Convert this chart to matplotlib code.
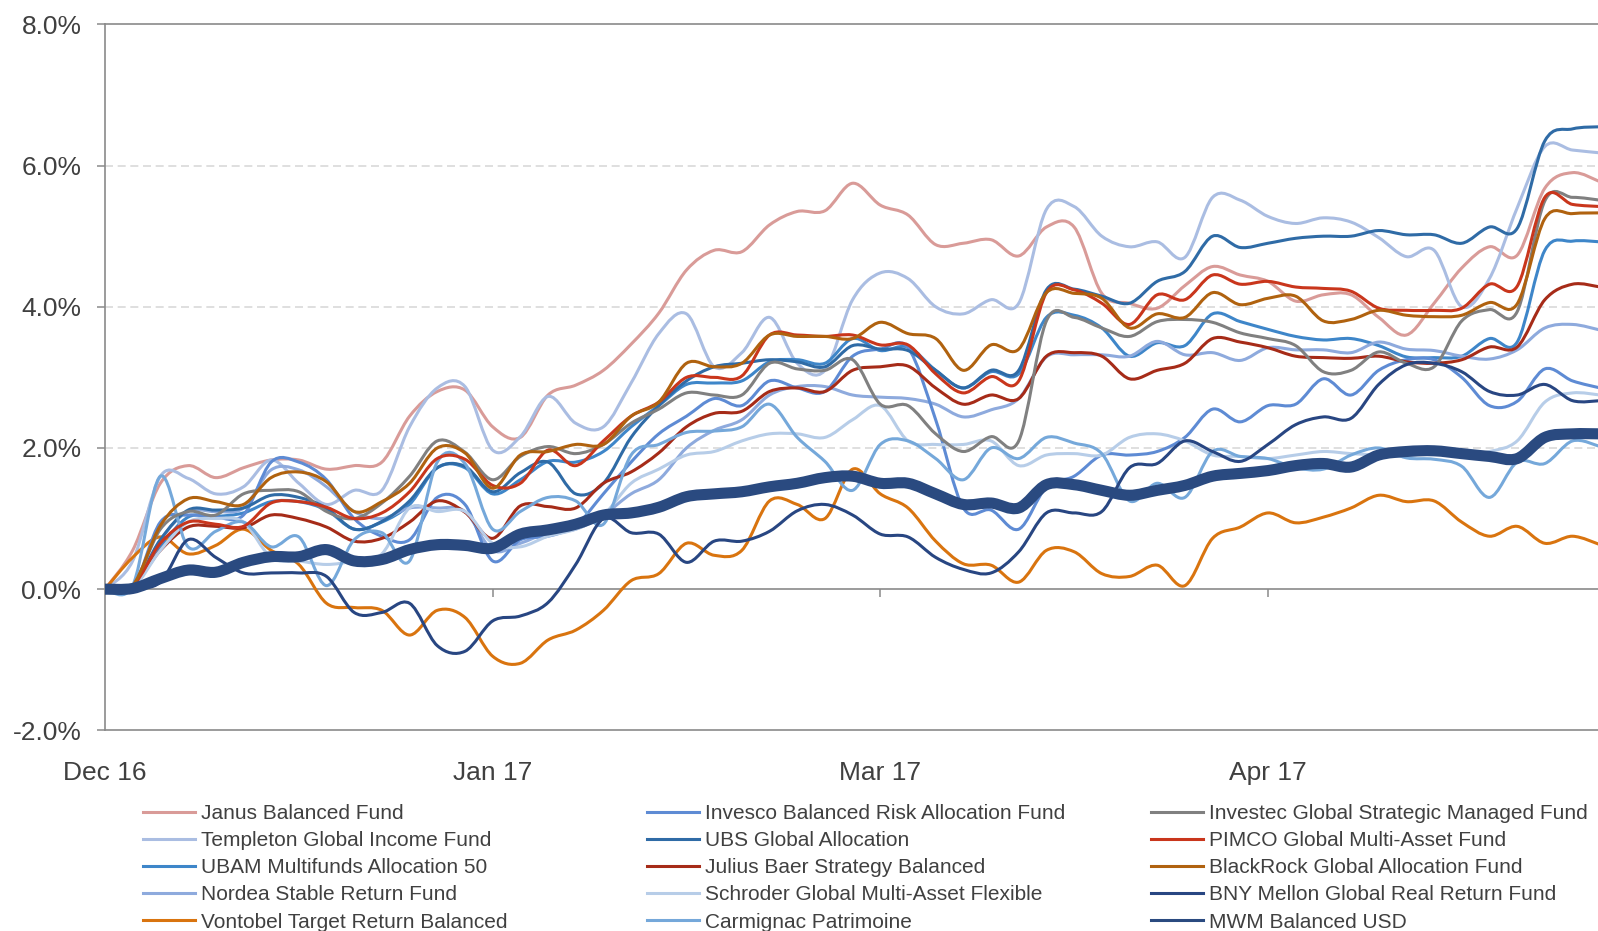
import matplotlib
matplotlib.use('Agg')
import matplotlib.pyplot as plt
from matplotlib.lines import Line2D
from matplotlib.path import Path
from matplotlib.patches import PathPatch

plt.rcParams['font.family'] = ['Liberation Sans', 'DejaVu Sans']

# ---------------- data ----------------
day_index = list(range(0, 109, 2))          # trading-day index (every 2nd day)
tick_positions = [0, 28, 56, 84]
tick_labels = ['Dec 16', 'Jan 17', 'Mar 17', 'Apr 17']
y_ticks = [-2, 0, 2, 4, 6, 8]

janus = [0.0, 0.55, 1.50, 1.75, 1.58, 1.72, 1.83, 1.83, 1.70, 1.75, 1.80, 2.45, 2.80, 2.82, 2.30, 2.15, 2.75, 2.89, 3.10, 3.47,
         3.91, 4.52, 4.80, 4.78, 5.16, 5.35, 5.36, 5.75, 5.44, 5.30, 4.88, 4.90, 4.95, 4.72, 5.13, 5.13, 4.19, 4.05, 3.98, 4.30,
         4.57, 4.45, 4.36, 4.08, 4.17, 4.17, 3.85, 3.60, 4.05, 4.55, 4.85, 4.73, 5.68, 5.90, 5.77]
templeton = [0.0, 0.40, 1.60, 1.57, 1.35, 1.45, 1.83, 1.50, 1.20, 1.40, 1.40, 2.30, 2.85, 2.87, 1.97, 2.16, 2.73, 2.35, 2.30, 2.92,
             3.62, 3.90, 3.15, 3.35, 3.85, 3.20, 3.10, 4.10, 4.48, 4.40, 4.00, 3.90, 4.10, 4.05, 5.38, 5.42, 5.00, 4.85, 4.92, 4.70,
             5.55, 5.51, 5.28, 5.18, 5.26, 5.20, 4.98, 4.71, 4.80, 4.00, 4.40, 5.40, 6.27, 6.22, 6.18]
ubam = [0.0, 0.05, 0.60, 1.02, 1.03, 1.08, 1.24, 1.24, 1.12, 0.85, 0.95, 1.20, 1.72, 1.72, 1.35, 1.55, 1.81, 1.80, 1.95, 2.30,
        2.60, 2.90, 2.92, 2.95, 3.22, 3.25, 3.20, 3.55, 3.38, 3.43, 3.10, 2.85, 3.08, 3.05, 3.85, 3.88, 3.70, 3.30, 3.49, 3.45,
        3.90, 3.79, 3.68, 3.58, 3.53, 3.55, 3.45, 3.29, 3.28, 3.30, 3.55, 3.50, 4.80, 4.93, 4.92]
nordea = [0.0, 0.02, 0.70, 1.10, 1.10, 1.15, 1.69, 1.69, 1.45, 1.10, 1.00, 1.15, 1.15, 1.10, 0.55, 0.65, 0.80, 0.85, 1.05, 1.35,
          1.55, 2.00, 2.25, 2.40, 2.75, 2.87, 2.87, 2.75, 2.72, 2.70, 2.62, 2.44, 2.54, 2.70, 3.29, 3.32, 3.32, 3.30, 3.51, 3.32,
          3.35, 3.24, 3.42, 3.39, 3.39, 3.35, 3.50, 3.40, 3.38, 3.30, 3.26, 3.39, 3.70, 3.75, 3.67]
vontobel = [0.0, 0.45, 0.74, 0.50, 0.62, 0.85, 0.55, 0.35, -0.20, -0.26, -0.30, -0.65, -0.30, -0.40, -0.95, -1.05, -0.72, -0.58, -0.30, 0.12,
            0.22, 0.65, 0.48, 0.55, 1.25, 1.20, 1.00, 1.70, 1.35, 1.15, 0.68, 0.36, 0.34, 0.10, 0.55, 0.53, 0.22, 0.18, 0.34, 0.05,
            0.72, 0.88, 1.08, 0.94, 1.02, 1.15, 1.33, 1.24, 1.25, 0.95, 0.75, 0.89, 0.65, 0.75, 0.63]
invesco = [0.0, 0.02, 0.95, 1.05, 1.02, 1.05, 1.80, 1.80, 1.55, 1.00, 0.75, 0.70, 1.30, 1.20, 0.40, 0.70, 0.75, 0.90, 1.35, 1.80,
           2.20, 2.45, 2.70, 2.60, 2.95, 2.85, 2.80, 3.30, 3.40, 3.42, 2.40, 1.15, 1.12, 0.85, 1.45, 1.60, 1.90, 1.90, 1.95, 2.15,
           2.55, 2.37, 2.60, 2.62, 2.98, 2.75, 3.10, 3.25, 3.25, 3.00, 2.60, 2.66, 3.12, 2.95, 2.85]
ubs = [0.0, 0.05, 0.70, 1.12, 1.12, 1.15, 1.33, 1.30, 1.15, 0.85, 0.96, 1.25, 1.72, 1.74, 1.38, 1.65, 1.80, 1.35, 1.50, 2.15,
       2.60, 2.95, 3.15, 3.20, 3.25, 3.22, 3.15, 3.45, 3.40, 3.38, 3.10, 2.85, 3.10, 3.10, 4.24, 4.25, 4.15, 4.05, 4.36, 4.50,
       5.00, 4.84, 4.90, 4.97, 5.00, 5.00, 5.08, 5.02, 5.02, 4.90, 5.13, 5.11, 6.35, 6.52, 6.55]
julius_baer = [0.0, 0.05, 0.55, 0.88, 0.89, 0.87, 1.05, 1.00, 0.88, 0.68, 0.72, 0.95, 1.25, 1.09, 0.72, 1.18, 1.17, 1.15, 1.50, 1.66,
               1.93, 2.30, 2.49, 2.52, 2.80, 2.85, 2.80, 3.10, 3.15, 3.16, 2.85, 2.62, 2.75, 2.70, 3.30, 3.35, 3.30, 2.98, 3.10, 3.20,
               3.55, 3.50, 3.42, 3.30, 3.28, 3.27, 3.30, 3.22, 3.20, 3.25, 3.43, 3.43, 4.10, 4.32, 4.28]
schroder = [0.0, 0.02, 0.55, 0.95, 1.00, 0.95, 0.45, 0.40, 0.35, 0.40, 0.50, 1.15, 1.10, 1.10, 0.65, 0.60, 0.75, 0.85, 1.05, 1.50,
            1.70, 1.90, 1.95, 2.10, 2.20, 2.20, 2.15, 2.40, 2.60, 2.10, 2.05, 2.05, 2.10, 1.75, 1.90, 1.92, 1.90, 2.15, 2.20, 2.10,
            1.90, 1.88, 1.85, 1.90, 1.95, 1.92, 1.90, 1.88, 1.95, 1.90, 1.95, 2.10, 2.65, 2.78, 2.75]
carmignac = [0.0, 0.05, 1.60, 0.60, 0.82, 0.95, 0.60, 0.74, 0.05, 0.70, 0.80, 0.40, 1.80, 1.78, 0.85, 1.10, 1.30, 1.25, 0.92, 1.90,
             2.05, 2.22, 2.24, 2.30, 2.62, 2.15, 1.81, 1.40, 2.05, 2.10, 1.85, 1.55, 2.00, 1.85, 2.15, 2.07, 1.92, 1.25, 1.50, 1.30,
             1.95, 1.88, 1.85, 1.72, 1.70, 1.90, 2.00, 1.86, 1.84, 1.74, 1.30, 1.80, 1.78, 2.10, 2.02]
investec = [0.0, 0.05, 0.85, 1.10, 1.05, 1.35, 1.40, 1.38, 1.10, 1.00, 1.22, 1.60, 2.10, 1.94, 1.55, 1.88, 2.02, 1.92, 2.05, 2.35,
            2.55, 2.78, 2.75, 2.75, 3.20, 3.12, 3.10, 3.25, 2.62, 2.60, 2.20, 1.95, 2.16, 2.10, 3.80, 3.85, 3.70, 3.58, 3.79, 3.82,
            3.78, 3.63, 3.55, 3.45, 3.08, 3.10, 3.36, 3.20, 3.15, 3.80, 3.96, 3.93, 5.50, 5.55, 5.51]
pimco = [0.0, 0.05, 0.65, 0.95, 0.92, 0.89, 1.22, 1.24, 1.16, 1.00, 1.08, 1.38, 1.85, 1.84, 1.47, 1.50, 1.97, 1.75, 2.10, 2.45,
         2.65, 3.00, 3.00, 3.02, 3.60, 3.60, 3.58, 3.60, 3.46, 3.46, 3.05, 2.78, 3.01, 2.95, 4.20, 4.24, 4.05, 3.75, 4.17, 4.10,
         4.45, 4.32, 4.36, 4.28, 4.26, 4.22, 3.98, 3.95, 3.95, 3.98, 4.32, 4.29, 5.55, 5.45, 5.42]
blackrock = [0.0, 0.05, 0.90, 1.28, 1.24, 1.20, 1.58, 1.66, 1.52, 1.10, 1.24, 1.50, 2.00, 1.93, 1.43, 1.90, 1.95, 2.05, 2.05, 2.45,
             2.65, 3.20, 3.15, 3.20, 3.60, 3.58, 3.58, 3.55, 3.78, 3.62, 3.55, 3.10, 3.46, 3.40, 4.20, 4.19, 4.12, 3.70, 3.90, 3.85,
             4.20, 4.03, 4.12, 4.15, 3.80, 3.82, 3.95, 3.88, 3.86, 3.88, 4.06, 4.04, 5.25, 5.32, 5.33]
bny_mellon = [0.0, 0.02, 0.10, 0.70, 0.45, 0.23, 0.23, 0.23, 0.18, -0.33, -0.33, -0.20, -0.80, -0.88, -0.45, -0.38, -0.19, 0.35, 1.00, 0.80,
              0.78, 0.38, 0.68, 0.68, 0.82, 1.11, 1.20, 1.05, 0.78, 0.74, 0.45, 0.28, 0.23, 0.53, 1.08, 1.08, 1.10, 1.72, 1.78, 2.10,
              1.95, 1.81, 2.05, 2.33, 2.44, 2.42, 2.90, 3.18, 3.20, 3.08, 2.80, 2.75, 2.90, 2.67, 2.67]
mwm = [0.0, 0.01, 0.15, 0.27, 0.24, 0.38, 0.46, 0.46, 0.56, 0.40, 0.42, 0.56, 0.63, 0.62, 0.58, 0.78, 0.84, 0.92, 1.05, 1.08,
       1.16, 1.31, 1.35, 1.38, 1.45, 1.50, 1.58, 1.60, 1.50, 1.50, 1.35, 1.20, 1.22, 1.15, 1.48, 1.48, 1.40, 1.33, 1.40, 1.47,
       1.60, 1.64, 1.68, 1.75, 1.78, 1.73, 1.90, 1.95, 1.96, 1.92, 1.88, 1.85, 2.15, 2.20, 2.20]

# name, values, colour, line width (pt)
series = [
    ('Janus Balanced Fund', janus, '#D99B98', 2.2),
    ('Templeton Global Income Fund', templeton, '#AABDE2', 2.2),
    ('UBAM Multifunds Allocation 50', ubam, '#3E86C9', 2.2),
    ('Nordea Stable Return Fund', nordea, '#8EAADD', 2.2),
    ('Vontobel Target Return Balanced', vontobel, '#D9740F', 2.2),
    ('Invesco Balanced Risk Allocation Fund', invesco, '#5E8BD4', 2.2),
    ('UBS Global Allocation', ubs, '#2F6BA6', 2.2),
    ('Julius Baer Strategy Balanced', julius_baer, '#A62B18', 2.2),
    ('Schroder Global Multi-Asset Flexible', schroder, '#B7CDE8', 2.2),
    ('Carmignac Patrimoine', carmignac, '#75A8DA', 2.2),
    ('Investec Global Strategic Managed Fund', investec, '#808080', 2.2),
    ('PIMCO Global Multi-Asset Fund', pimco, '#C9361C', 2.2),
    ('BlackRock Global Allocation Fund', blackrock, '#B0620F', 2.2),
    ('BNY Mellon Global Real Return Fund', bny_mellon, '#284682', 2.2),
    ('MWM Balanced USD', mwm, '#2A4A80', 8.0),
]
for _, v, _, _ in series:
    assert len(v) == len(day_index)


def smooth_path(x, y):
    """Excel-style smoothed line (cubic Bezier through every data point)."""
    n = len(x)
    verts = [(x[0], y[0])]
    codes = [Path.MOVETO]
    for i in range(n - 1):
        x0, y0 = (x[i - 1], y[i - 1]) if i > 0 else (x[i], y[i])
        x1, y1 = x[i], y[i]
        x2, y2 = x[i + 1], y[i + 1]
        x3, y3 = (x[i + 2], y[i + 2]) if i + 2 < n else (x2, y2)
        verts += [(x1 + (x2 - x0) / 6, y1 + (y2 - y0) / 6),
                  (x2 - (x3 - x1) / 6, y2 - (y3 - y1) / 6),
                  (x2, y2)]
        codes += [Path.CURVE4] * 3
    return Path(verts, codes)


# ---------------- figure ----------------
fig = plt.figure(figsize=(15.98, 9.31), dpi=100)
ax = fig.add_axes([0.0657, 0.2155, 0.9343, 0.7583])

axis_grey = '#8A8A8A'
text_col = '#404040'

for i, (name, vals, col, lw) in enumerate(series):
    ax.add_patch(PathPatch(smooth_path(day_index, vals), fill=False,
                           edgecolor=col, lw=lw, capstyle='round',
                           joinstyle='round', zorder=3 + i * 0.01))

ax.set_xlim(0, 107.84)
ax.set_ylim(-2, 8)

ax.set_yticks(y_ticks, [f'{v:.1f}%' for v in y_ticks])
ax.set_xticks(tick_positions, tick_labels)
ax.tick_params(axis='y', length=6, width=1.1, color=axis_grey, pad=11,
               labelsize=19, labelcolor=text_col)
ax.tick_params(axis='x', length=0, pad=22, labelsize=19, labelcolor=text_col)

# dashed gridlines only at the inner levels (2, 4, 6 %)
ax.yaxis.grid(True, linestyle=(0, (4.8, 2.8)), color='#D9D9D9', lw=1.2)
ax.set_axisbelow(True)
for val, gl in zip(y_ticks, ax.yaxis.get_gridlines()):
    gl.set_visible(val not in (-2, 0, 8))

for side in ['left', 'top', 'bottom']:
    ax.spines[side].set_color(axis_grey)
    ax.spines[side].set_linewidth(1.2)
ax.spines['right'].set_visible(False)

# horizontal category axis at 0 % (solid) with its tick marks
ax.axhline(0, color=axis_grey, lw=1.2, zorder=2)
sec = ax.secondary_xaxis(0.2)
sec.set_xticks(tick_positions[1:])
sec.tick_params(axis='x', direction='out', length=6, width=1.1,
                color=axis_grey, labelbottom=False)
sec.spines['bottom'].set_visible(False)

# ---------------- legend (3 columns) ----------------
col_x = [0.0895, 0.4049, 0.7203]
for c in range(3):
    chunk = series[c * 5:(c + 1) * 5]
    handles = [Line2D([], [], color=col, lw=2.2) for _, _, col, _ in chunk]
    labels = [n for n, _, _, _ in chunk]
    leg = fig.legend(handles, labels, loc='upper left',
                     bbox_to_anchor=(col_x[c], 0.1363), frameon=False,
                     fontsize=15, handlelength=2.5, handletextpad=0.3,
                     labelspacing=0.39, borderpad=0, borderaxespad=0)
    for t in leg.get_texts():
        t.set_color(text_col)

fig.savefig('out.png', dpi=100)
